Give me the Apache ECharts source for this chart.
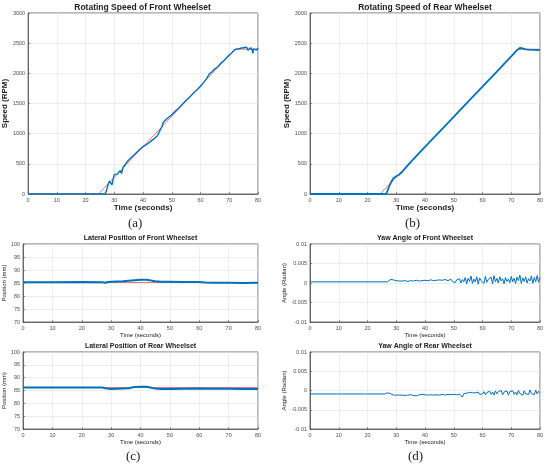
<!DOCTYPE html>
<html>
<head>
<meta charset="utf-8">
<script src="https://cdn.jsdelivr.net/npm/echarts@6/dist/echarts.min.js"></script>
<style>
  html, body { margin: 0; padding: 0; background: #fff; }
  #main { width: 550px; height: 468px; }
</style>
</head>
<body>
<div id="main"></div>
<script>
// rotating speed, RPM  [time s, value]
let frontSpeed = [
  [0,0],[26.8,0],[27.3,60],[27.8,150],[28.3,215],[28.8,190],[29.2,150],[29.6,250],[30,325],[30.5,345],
  [31,330],[31.5,360],[32,385],[32.5,340],[33,435],[33.5,465],[34,505],[34.5,525],[35,565],[35.5,585],
  [36,610],[36.5,625],[37,655],[37.5,675],[38,700],[38.5,715],[39,745],[39.5,755],[40,785],[40.5,790],
  [41,815],[41.5,825],[42,845],[42.5,865],[43,885],[43.5,895],[44,925],[44.5,935],[45,965],[45.5,985],
  [46,1065],[46.5,1105],[47,1185],[47.5,1195],[48,1235],[48.5,1245],[49,1275],[49.5,1285],[50,1315],[50.5,1335],
  [51,1365],[51.5,1375],[52,1405],[52.5,1415],[53,1455],[53.5,1465],[54,1505],[54.5,1515],[55,1555],[55.5,1565],
  [56,1595],[56.5,1605],[57,1645],[57.5,1655],[58,1695],[58.5,1705],[59,1735],[59.5,1755],[60,1785],[60.5,1805],
  [61,1845],[61.5,1865],[62,1905],[62.5,1945],[63,1985],[63.5,1995],[64,2025],[64.5,2045],[65,2075],[65.5,2085],
  [66,2105],[66.5,2125],[67,2165],[67.5,2175],[68,2205],[68.5,2225],[69,2255],[69.5,2275],[70,2305],[70.5,2315],
  [71,2345],[71.5,2355],[72,2395],[72.5,2365],[73,2405],[73.5,2385],[74,2415],[74.5,2395],[75,2425],[75.5,2395],
  [76,2435],[76.5,2385],[77,2415],[77.5,2425],[78,2380],[78.2,2330],[78.5,2405],[79,2415],[79.5,2385],[80,2420]
];
let frontSpeedRef = [[0,0],[24.5,0],[72,2400],[80,2400]];

let rearSpeed = [
  [0,0],[26.5,0],[27,60],[27.5,120],[28,175],[28.5,220],[29,260],[29.5,280],[30,295],[31,320],
  [32,365],[33,420],[34,475],[35,528],[36,580],[38,680],[40,780],[42,880],[45,1030],[48,1180],
  [50,1280],[52,1380],[55,1530],[58,1680],[60,1780],[62,1880],[65,2030],[68,2180],[70,2280],[72,2385],
  [73,2420],[73.5,2425],[74,2412],[75,2398],[76,2392],[78,2390],[80,2386]
];
let rearSpeedRef = [[0,0],[24.4,0],[72.5,2400],[80,2400]];

// lateral position, mm
let frontLateral = [
  [0,85.3],[10,85.3],[20,85.35],[27,85.3],[28,85.1],[29,85.4],[30,85.5],[32,85.6],[34,85.7],[36,85.9],
  [38,86.1],[40,86.25],[42,86.25],[43,86.1],[44,85.9],[45,85.7],[47,85.5],[50,85.5],[55,85.4],[60,85.35],
  [62,85.2],[65,85.1],[70,85.1],[75,85.0],[80,85.1]
];
let frontLateralRef = [[0,85.2],[80,85.2]];

let rearLateral = [
  [0,86.2],[10,86.2],[20,86.2],[27,86.2],[28,85.9],[30,85.6],[32,85.7],[34,85.8],[36,85.9],[37,86.2],
  [38,86.4],[40,86.5],[42,86.5],[43,86.3],[44,86.0],[45,85.8],[47,85.6],[50,85.6],[55,85.7],[60,85.8],
  [65,85.7],[70,85.7],[75,85.6],[80,85.6]
];
let rearLateralRef = [[0,86.15],[80,86.15]];

// yaw angle, radian
let frontYaw = [
  [0,0.0003],[5.4,0.0003],[5.6,0.0001],[5.8,0.0003],[27,0.0003],[27.5,0.0005],[28,0.0009],[28.5,0.0010],[29,0.0008],[29.5,0.0010],
  [30,0.0006],[30.5,0.0004],[31,0.0005],[31.5,0.0003],[32,0.0005],[32.5,0.0004],[33,0.0006],[33.5,0.0003],[34,0.0004],[34.5,0.0005],
  [35,0.0006],[35.5,0.0003],[36,0.0005],[36.5,0.0004],[37,0.0007],[37.5,0.0004],[38,0.0005],[38.5,0.0003],[39,0.0006],[39.5,0.0005],
  [40,0.0007],[40.5,0.0004],[41,0.0006],[41.5,0.0003],[42,0.0008],[42.5,0.0004],[43,0.0006],[43.5,0.0003],[44,0.0007],[44.5,0.0005],
  [45,0.0008],[45.5,0.0004],[46,0.0007],[46.5,0.0002],[47,0.0009],[47.5,0.0005],[48,0.0006],[48.5,0.0002],[49,0.0010],[49.5,0.0004],
  [50,0.0007],[50.5,0.0001],[51,0.0008],[51.5,0.0005],[52,0.0011],[52.5,0.0000],[53,0.0009],[53.5,0.0003],[54,0.0014],[54.5,-0.0002],
  [55,0.0012],[55.5,0.0004],[56,0.0018],[56.5,-0.0001],[57,0.0010],[57.5,0.0003],[58,0.0016],[58.5,-0.0003],[59,0.0013],[59.5,0.0006],
  [60,0.0011],[60.5,-0.0001],[61,0.0017],[61.5,0.0002],[62,0.0009],[62.5,0.0004],[63,0.0015],[63.5,-0.0002],[64,0.0019],[64.5,0.0003],
  [65,0.0012],[65.5,0.0000],[66,0.0016],[66.5,0.0005],[67,0.0011],[67.5,-0.0002],[68,0.0014],[68.5,0.0004],[69,0.0010],[69.5,0.0001],
  [70,0.0017],[70.5,0.0003],[71,0.0012],[71.5,-0.0001],[72,0.0015],[72.5,0.0006],[73,0.0020],[73.5,-0.0001],[74,0.0013],[74.5,0.0004],
  [75,0.0016],[75.5,0.0000],[76,0.0011],[76.5,0.0005],[77,0.0018],[77.5,-0.0001],[78,0.0014],[78.5,0.0003],[79,0.0019],[79.5,0.0002],
  [80,0.0015]
];

let rearYaw = [
  [0,-0.0009],[10,-0.0009],[20,-0.0009],[26,-0.0009],[26.7,-0.0006],[27.3,-0.0005],[28,-0.0008],[28.5,-0.0010],[29,-0.0012],[29.5,-0.0013],
  [30,-0.0012],[30.5,-0.0013],[31,-0.0012],[31.5,-0.0013],[32,-0.0012],[32.5,-0.0011],[33,-0.0013],[33.5,-0.0012],[34,-0.0012],[34.5,-0.0013],
  [35,-0.0011],[35.5,-0.0012],[36,-0.0013],[36.5,-0.0011],[37,-0.0014],[37.5,-0.0012],[38,-0.0011],[38.5,-0.0012],[39,-0.0010],[39.5,-0.0012],
  [40,-0.0011],[40.5,-0.0010],[41,-0.0012],[41.5,-0.0010],[42,-0.0011],[42.5,-0.0009],[43,-0.0012],[43.5,-0.0010],[44,-0.0011],[44.5,-0.0008],
  [45,-0.0012],[45.5,-0.0009],[46,-0.0010],[46.5,-0.0007],[47,-0.0012],[47.5,-0.0008],[48,-0.0010],[48.5,-0.0007],[49,-0.0011],[49.5,-0.0009],
  [50,-0.0010],[50.5,-0.0006],[51,-0.0011],[51.5,-0.0008],[52,-0.0010],[52.5,-0.0007],[53,-0.0017],[53.5,-0.0008],[54,-0.0010],[54.5,-0.0007],
  [55,-0.0011],[55.5,-0.0005],[56,-0.0009],[56.5,-0.0006],[57,-0.0011],[57.5,-0.0006],[58,-0.0008],[58.5,-0.0004],[59,-0.0010],[59.5,-0.0006],
  [60,-0.0009],[60.5,-0.0003],[61,-0.0011],[61.5,-0.0005],[62,-0.0008],[62.5,-0.0002],[63,-0.0010],[63.5,-0.0004],[64,-0.0012],[64.5,-0.0001],
  [65,-0.0009],[65.5,-0.0003],[66,-0.0008],[66.5,0.0000],[67,-0.0011],[67.5,-0.0004],[68,-0.0009],[68.5,-0.0001],[69,-0.0012],[69.5,-0.0003],
  [70,-0.0007],[70.5,-0.0001],[71,-0.0010],[71.5,-0.0004],[72,-0.0011],[72.5,0.0000],[73,-0.0008],[73.5,-0.0003],[74,-0.0012],[74.5,-0.0001],
  [75,-0.0009],[75.5,-0.0004],[76,-0.0010],[76.5,0.0001],[77,-0.0008],[77.5,-0.0003],[78,-0.0011],[78.5,0.0001],[79,-0.0009],[79.5,-0.0002],
  [80,-0.0006]
];

let titles = [
  'Rotating Speed of Front Wheelset', 'Rotating Speed of Rear Wheelset',
  'Lateral Position of Front Wheelset', 'Yaw Angle of Front Wheelset',
  'Lateral Position of Rear Wheelset', 'Yaw Angle of Rear Wheelset'
];
let panelLabels = ['(a)', '(b)', '(c)', '(d)'];

const BLUE = '#0072BD';
const RED = '#e8776f';
const FONT = '"Liberation Sans", Arial, sans-serif';

// plot boxes [left, top, width, height]
let boxes = [
  [27, 13, 231, 181], [310, 13, 230, 181],
  [23, 244, 235, 78], [310, 244, 230, 78],
  [23, 352, 235, 77], [310, 352, 230, 77]
];

let yCfg = [
  { min: 0, max: 3000, interval: 500, name: 'Speed (RPM)', big: true, gap: 15 },
  { min: 0, max: 3000, interval: 500, name: 'Speed (RPM)', big: true, gap: 16 },
  { min: 70, max: 100, interval: 5, name: 'Position (mm)', gap: 13 },
  { min: -0.01, max: 0.01, interval: 0.005, name: 'Angle (Radian)', gap: 21 },
  { min: 70, max: 100, interval: 5, name: 'Position (mm)', gap: 13 },
  { min: -0.01, max: 0.01, interval: 0.005, name: 'Angle (Radian)', gap: 21 }
];

let axisCommon = {
  axisLine: { show: true, onZero: false, lineStyle: { color: '#4d4d4d', width: 0.8 } },
  axisTick: { show: true, inside: true, length: 2, lineStyle: { color: '#4d4d4d', width: 0.6 } },
  axisLabel: {
    fontSize: 5.5, color: '#4d4d4d', fontFamily: FONT, margin: 3,
    formatter: v => String(+v.toFixed(4))
  },
  splitLine: { show: true, lineStyle: { color: '#e3e3e3', width: 0.6 } }
};

let grid = boxes.map(b => ({
  left: b[0], top: b[1], width: b[2], height: b[3],
  show: true, borderColor: '#4d4d4d', borderWidth: 0.8, backgroundColor: '#fff'
}));

let xAxis = boxes.map((b, i) => Object.assign({}, axisCommon, {
  type: 'value', gridIndex: i, min: 0, max: 80, interval: 10,
  name: 'Time (seconds)', nameLocation: 'middle',
  nameGap: i < 2 ? 9 : 7,
  nameTextStyle: {
    fontFamily: FONT, color: '#222',
    fontSize: i < 2 ? 8 : 6, fontWeight: i < 2 ? 'bold' : 'normal'
  }
}));

let yAxis = yCfg.map((c, i) => Object.assign({}, axisCommon, {
  type: 'value', gridIndex: i, min: c.min, max: c.max, interval: c.interval,
  name: c.name, nameLocation: 'middle', nameGap: c.gap, nameRotate: 90,
  nameTextStyle: {
    fontFamily: FONT, color: '#222',
    fontSize: c.big ? 8 : 6, fontWeight: c.big ? 'bold' : 'normal'
  }
}));

let title = titles.map((t, i) => ({
  text: t,
  padding: 0,
  left: boxes[i][0] + boxes[i][2] / 2,
  top: boxes[i][1] - (i < 2 ? 10 : 9),
  textAlign: 'center',
  textStyle: { fontFamily: FONT, fontWeight: 'bold', color: '#222', fontSize: i < 2 ? 8.5 : 7 }
}));

let line = (data, idx, color, width, z) => ({
  type: 'line', xAxisIndex: idx, yAxisIndex: idx, data: data,
  showSymbol: false, symbol: 'none', animation: false, z: z,
  lineStyle: { color: color, width: width }
});

let series = [
  line(frontSpeedRef, 0, RED, 1, 2), line(frontSpeed, 0, BLUE, 1.4, 3),
  line(rearSpeedRef, 1, RED, 1, 2), line(rearSpeed, 1, BLUE, 1.8, 3),
  line(frontLateralRef, 2, RED, 1, 2), line(frontLateral, 2, BLUE, 2, 3),
  line(frontYaw, 3, BLUE, 1, 3),
  line(rearLateralRef, 4, RED, 1, 2), line(rearLateral, 4, BLUE, 2, 3),
  line(rearYaw, 5, BLUE, 1, 3)
];

let labelPos = [[136, 225], [413, 225], [134, 458], [416, 458]];
let graphic = panelLabels.map((t, i) => ({
  type: 'text', left: labelPos[i][0] - 8, top: labelPos[i][1] - 8,
  style: { text: t, font: '13px "Liberation Serif", "DejaVu Serif", serif', fill: '#222' }
}));

let myChart = echarts.init(document.getElementById('main'));
myChart.setOption({
  backgroundColor: '#fff',
  animation: false,
  title: title,
  grid: grid,
  xAxis: xAxis,
  yAxis: yAxis,
  series: series,
  graphic: graphic
});
</script>
</body>
</html>
